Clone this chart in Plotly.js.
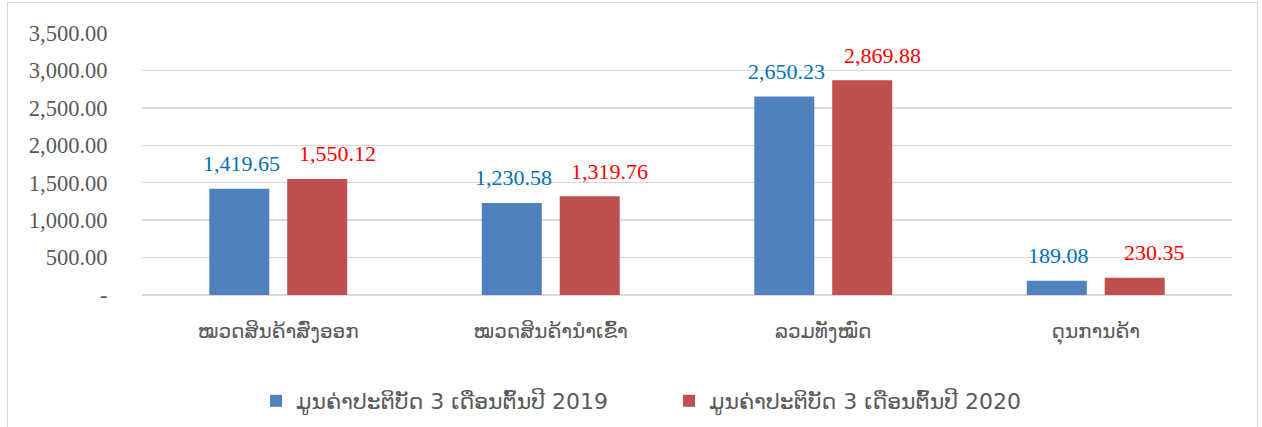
<!DOCTYPE html>
<html>
<head>
<meta charset="utf-8">
<script src="https://cdn.plot.ly/plotly-3.0.1.min.js"></script>
<style>
html,body{margin:0;padding:0;background:#fff;}
#frame{position:absolute;left:7px;top:2px;width:1251px;height:440px;border:1px solid #D9D9D9;box-sizing:border-box;}
#chart{position:absolute;left:0;top:0;width:1262px;height:427px;}
</style>
</head>
<body>
<div id="frame"></div>
<div id="chart"></div>
<script>
const categories = ["ໝວດສິນຄ້າສົ່ງອອກ", "ໝວດສິນຄ້ານຳເຂົ້າ", "ລວມທັງໝົດ", "ດຸນການຄ້າ"];
const values2019 = [1419.65, 1230.58, 2650.23, 189.08];
const values2020 = [1550.12, 1319.76, 2869.88, 230.35];
const labels2019 = ["1,419.65", "1,230.58", "2,650.23", "189.08"];
const labels2020 = ["1,550.12", "1,319.76", "2,869.88", "230.35"];
const seriesNames = ["ມູນຄ່າປະຕິບັດ 3 ເດືອນຕົ້ນປີ 2019", "ມູນຄ່າປະຕິບັດ 3 ເດືອນຕົ້ນປີ 2020"];
const tickValues = [0, 500, 1000, 1500, 2000, 2500, 3000, 3500];
const tickLabels = ["-", "500.00", "1,000.00", "1,500.00", "2,000.00", "2,500.00", "3,000.00", "3,500.00"];

const laoFont = "DejaVu Sans, Noto Sans, sans-serif";
const serif = "Liberation Serif, Times New Roman, serif";

const traces = [
  {type: "bar", name: seriesNames[0], x: categories, y: values2019,
   marker: {color: "#4F81BD"}, hoverinfo: "none"},
  {type: "bar", name: seriesNames[1], x: categories, y: values2020,
   marker: {color: "#C0504D"}, hoverinfo: "none"}
];

const annotations = [];
categories.forEach((c, i) => {
  annotations.push({x: c, y: values2019[i], text: labels2019[i], showarrow: false,
    xshift: -37, yshift: 25, yanchor: "middle",
    font: {family: serif, size: 22, color: "#0070C0"}});
  annotations.push({x: c, y: values2020[i], text: labels2020[i], showarrow: false,
    xshift: 59, yshift: 25, yanchor: "middle",
    font: {family: serif, size: 22, color: "#FF0000"}});
});

const layout = {
  width: 1262, height: 427,
  margin: {l: 142, r: 30, t: 33, b: 132},
  paper_bgcolor: "rgba(0,0,0,0)", plot_bgcolor: "#fff",
  barmode: "group", bargap: 0.428, bargroupgap: 0.23,
  showlegend: true,
  legend: {orientation: "h", xref: "container", yref: "container",
    x: 0.2029, xanchor: "left", y: 0.0609, yanchor: "middle",
    entrywidth: 368, entrywidthmode: "pixels",
    font: {family: laoFont, size: 22, color: "#595959"}, traceorder: "normal"},
  xaxis: {type: "category", showgrid: false, zeroline: false, showline: false,
    ticks: "outside", ticklen: 18, tickcolor: "rgba(0,0,0,0)",
    tickfont: {family: laoFont, size: 20, color: "#595959"}},
  yaxis: {range: [0, 3500], tickvals: tickValues, ticktext: tickLabels,
    showgrid: true, gridcolor: "#D9D9D9", gridwidth: 1.3, zeroline: true, zerolinecolor: "#D9D9D9", zerolinewidth: 1.3,
    ticks: "outside", ticklen: 29, tickcolor: "rgba(0,0,0,0)",
    tickfont: {family: serif, size: 22.5, color: "#595959"}},
  annotations: annotations
};

Plotly.newPlot("chart", traces, layout, {staticPlot: true, displayModeBar: false});
</script>
</body>
</html>
